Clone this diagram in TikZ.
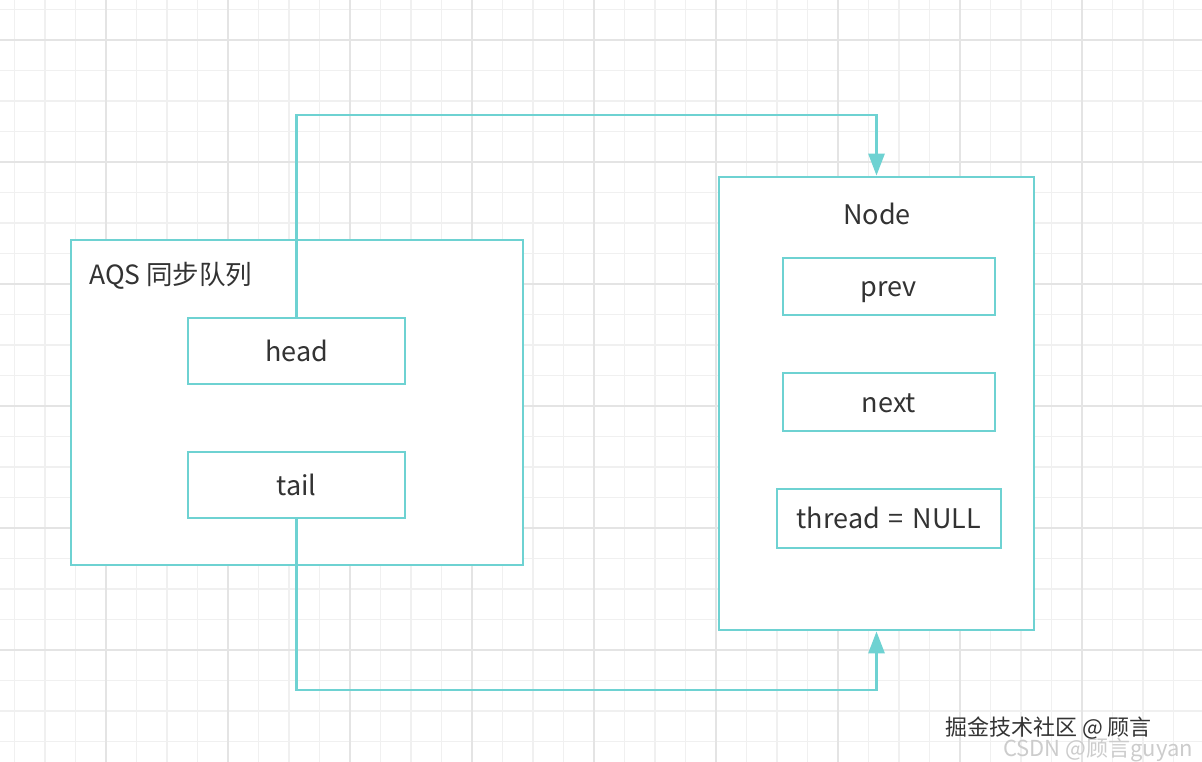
\documentclass[tikz,border=0pt]{standalone}
\usepackage{fontspec}
\setmainfont{Noto Sans CJK SC}
\usetikzlibrary{arrows.meta}
\definecolor{teal1}{HTML}{6ED2D2}
\definecolor{txt}{HTML}{333333}
\definecolor{gminor}{HTML}{F0F0F0}
\definecolor{gmajor}{HTML}{E4E4E4}
\tikzset{
  box/.style={draw=teal1, line width=2.8pt, fill=white, inner sep=0pt, text=txt,
    font=\fontsize{27}{31}\selectfont, text height=20pt, text depth=0pt},
  conn/.style={draw=teal1, line width=2.8pt, -{Triangle[width=16pt,length=22pt]}},
  lbl/.style={text=txt, inner sep=0pt, font=\fontsize{27}{31}\selectfont},
}
\begin{document}
\begin{tikzpicture}[x=1pt,y=-1pt]
\useasboundingbox (0,0) rectangle (1202,762);
\fill[white] (0,0) rectangle (1202,762);
% grid
\foreach \k in {0,...,39} {
  \pgfmathsetmacro{\gx}{14.5+30.5*\k}
  \draw[gminor, line width=1.3pt] (\gx,0) -- (\gx,762);
}
\foreach \k in {0,...,25} {
  \pgfmathsetmacro{\gy}{9.5+30.5*\k}
  \draw[gminor, line width=1.3pt] (0,\gy) -- (1202,\gy);
}
\foreach \k in {0,...,9} {
  \pgfmathsetmacro{\gx}{106+122*\k}
  \draw[gmajor, line width=1.6pt] (\gx,0) -- (\gx,762);
}
\foreach \k in {0,...,6} {
  \pgfmathsetmacro{\gy}{40+122*\k}
  \draw[gmajor, line width=1.6pt] (0,\gy) -- (1202,\gy);
}
% AQS box
\node[box, minimum width=452pt, minimum height=325pt] (aqs) at (297,402.5) {};
\node[lbl, anchor=base west, font=\fontsize{26.5}{30}\selectfont] (aqslbl) at (89,284) {AQS 同步队列};
\node[box, minimum width=217pt, minimum height=66pt] (head) at (296.5,351) {head};
\node[box, minimum width=217pt, minimum height=66pt] (tail) at (296.5,485) {tail};
% Node box
\node[box, minimum width=315pt, minimum height=453pt] (nodebox) at (876.5,403.5) {};
\node[lbl, anchor=base] (nodelbl) at (877,225) {Node};
\node[box, minimum width=212pt, minimum height=57pt] (prev) at (889,286.5) {prev};
\node[box, minimum width=212pt, minimum height=58pt] (next) at (889,402) {next};
\node[box, minimum width=224pt, minimum height=59pt] (thread) at (889,518.5) {thread\hspace{3pt} = \hspace{3pt}NULL};
% connectors
\coordinate (t1) at (296.5,115);
\coordinate (b1) at (296.5,690);
\draw[conn] (head.north) -- (t1) -| (nodebox.north);
\draw[conn] (tail.south) -- (b1) -| (nodebox.south);
% watermark
\node[text=gray!40, inner sep=0pt, anchor=base west, font=\fontsize{22}{26}\selectfont] (wm2) at (1003,756) {CSDN @顾言guyan};
\node[text=txt, inner sep=0pt, anchor=base west, font=\fontsize{22}{26}\selectfont] (wm1) at (945,735) {掘金技术社区 @ 顾言};
\end{tikzpicture}
\end{document}
